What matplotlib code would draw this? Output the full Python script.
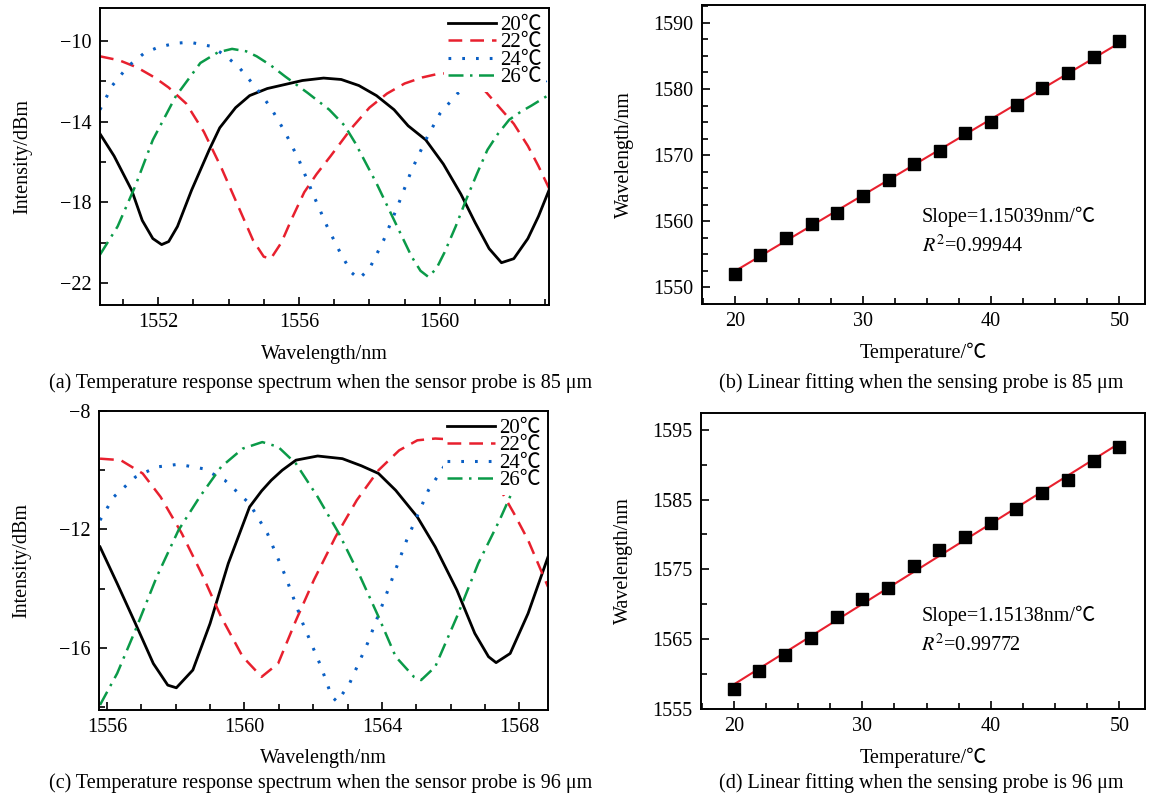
import numpy as np
import matplotlib
matplotlib.use("Agg")
import matplotlib.pyplot as plt
from matplotlib.ticker import MultipleLocator

plt.rcParams['font.family'] = ['Liberation Serif', 'Noto Sans CJK SC', 'DejaVu Sans']
plt.rcParams['mathtext.fontset'] = 'stix'
plt.rcParams['font.size'] = 14.5

W, H = 1150, 800

# ---- data ----
labels = ['20\u2103', '22\u2103', '24\u2103', '26\u2103']

# (a) sensor probe 85 um
wl_a_20 = [1550.35, 1550.75, 1551.25, 1551.55, 1551.85, 1552.1, 1552.3, 1552.55, 1552.95, 1553.45,
           1553.75, 1554.2, 1554.6, 1555.1, 1555.6, 1556.1, 1556.7, 1557.2, 1557.7, 1558.2,
           1558.7, 1559.1, 1559.6, 1560.1, 1560.6, 1561.0, 1561.4, 1561.75, 1562.1, 1562.5,
           1562.8, 1563.1]
int_a_20 = [-14.6, -15.7, -17.4, -18.9, -19.8, -20.1, -19.95, -19.2, -17.4, -15.4,
            -14.3, -13.3, -12.7, -12.35, -12.15, -11.95, -11.83, -11.9, -12.2, -12.7,
            -13.4, -14.2, -14.9, -16.1, -17.6, -19.0, -20.3, -21.0, -20.8, -19.8,
            -18.7, -17.4]
wl_a_22 = [1550.35, 1550.9, 1551.4, 1551.9, 1552.3, 1552.8, 1553.3, 1553.8, 1554.3, 1554.7,
           1555.0, 1555.2, 1555.5, 1555.8, 1556.15, 1556.5, 1556.9, 1557.5, 1558.0, 1558.5,
           1559.0, 1559.5, 1560.0, 1560.5, 1560.9, 1561.3, 1561.7, 1562.1, 1562.5, 1562.8, 1563.1]
int_a_22 = [-10.75, -10.95, -11.3, -11.8, -12.3, -13.1, -14.5, -16.3, -18.3, -19.9,
            -20.7, -20.8, -20.0, -18.8, -17.5, -16.6, -15.7, -14.3, -13.3, -12.6,
            -12.1, -11.8, -11.6, -11.6, -11.9, -12.5, -13.3, -14.1, -15.2, -16.2, -17.3]
wl_a_24 = [1550.35, 1550.7, 1551.15, 1551.6, 1552.0, 1552.5, 1552.9, 1553.5, 1553.9, 1554.3,
           1554.8, 1555.2, 1555.6, 1556.0, 1556.4, 1556.8, 1557.2, 1557.5, 1557.7, 1558.0,
           1558.4, 1558.8, 1559.2, 1559.6, 1560.0, 1560.5, 1560.9, 1561.5, 1562.2, 1562.7, 1563.1]
int_a_24 = [-13.4, -12.2, -11.24, -10.6, -10.3, -10.1, -10.05, -10.25, -10.7, -11.3,
            -12.35, -13.3, -14.5, -15.9, -17.6, -19.2, -20.6, -21.5, -21.8, -21.3,
            -19.9, -18.2, -16.4, -14.9, -13.6, -12.6, -12.15, -11.6, -11.4, -11.6, -12.15]
wl_a_26 = [1550.35, 1550.85, 1551.35, 1551.85, 1552.5, 1553.2, 1553.7, 1554.1, 1554.5, 1554.8,
           1555.2, 1555.6, 1556.25, 1556.86, 1557.3, 1557.6, 1558.2, 1558.7, 1559.2, 1559.45,
           1559.67, 1559.9, 1560.13, 1560.45, 1560.74, 1561.05, 1561.35, 1561.65, 1561.97, 1562.3,
           1562.6, 1563.1]
int_a_26 = [-20.6, -19.2, -17.2, -14.9, -12.74, -11.08, -10.55, -10.38, -10.5, -10.75,
            -11.2, -11.74, -12.57, -13.4, -14.2, -15.06, -17.05, -18.88, -20.7, -21.4,
            -21.7, -21.3, -20.5, -19.2, -17.9, -16.6, -15.4, -14.6, -13.9, -13.5,
            -13.2, -12.66]

# (c) sensor probe 96 um
wl_c_20 = [1555.8, 1556.3, 1556.83, 1557.35, 1557.77, 1558.02, 1558.5, 1559.0, 1559.53, 1560.15,
           1560.5, 1560.78, 1561.1, 1561.5, 1562.13, 1562.85, 1563.4, 1563.9, 1564.4, 1565.03,
           1565.55, 1566.18, 1566.7, 1567.1, 1567.32, 1567.73, 1568.25, 1568.83]
int_c_20 = [-12.59, -13.83, -15.18, -16.53, -17.26, -17.35, -16.75, -15.18, -13.15, -11.24,
            -10.7, -10.34, -10.0, -9.66, -9.52, -9.61, -9.85, -10.11, -10.68, -11.58,
            -12.59, -14.05, -15.51, -16.3, -16.5, -16.19, -14.84, -12.93]
wl_c_22 = [1555.8, 1556.4, 1557.04, 1557.56, 1558.18, 1558.8, 1559.32, 1559.95, 1560.5, 1560.98,
           1561.5, 1562.02, 1562.65, 1563.27, 1563.9, 1564.5, 1565.03, 1565.55, 1566.18, 1566.7,
           1567.1, 1567.4, 1567.84, 1568.25, 1568.83]
int_c_22 = [-9.61, -9.66, -10.11, -10.9, -12.14, -13.6, -14.95, -16.3, -16.98, -16.53,
            -15.07, -13.71, -12.25, -11.01, -10.0, -9.33, -8.99, -8.93, -8.97, -9.27,
            -9.89, -10.56, -11.46, -12.36, -13.94]
wl_c_24 = [1555.8, 1556.2, 1556.83, 1557.45, 1558.08, 1558.8, 1559.43, 1560.15, 1560.67, 1561.2,
           1561.7, 1562.23, 1562.54, 1562.7, 1563.06, 1563.58, 1564.1, 1564.72, 1565.35, 1565.86,
           1566.38, 1566.9, 1567.5, 1568.2, 1568.83]
int_c_24 = [-11.69, -10.9, -10.23, -9.89, -9.8, -9.95, -10.34, -11.13, -12.14, -13.6,
            -15.18, -16.64, -17.65, -17.82, -17.2, -15.85, -14.28, -12.36, -10.68, -9.78,
            -9.5, -9.45, -9.45, -9.5, -9.5]
wl_c_26 = [1555.8, 1556.3, 1556.83, 1557.45, 1558.08, 1558.7, 1559.32, 1559.95, 1560.52, 1560.98,
           1561.5, 1562.13, 1562.75, 1563.37, 1563.9, 1564.4, 1564.93, 1565.14, 1565.55, 1566.18,
           1566.8, 1567.42, 1567.94, 1568.4]
int_c_26 = [-17.93, -16.86, -15.4, -13.6, -12.03, -10.9, -9.89, -9.27, -9.05, -9.21,
            -9.78, -10.9, -12.14, -13.6, -14.95, -16.3, -16.98, -17.09, -16.64, -14.95,
            -13.15, -11.69, -10.34, -9.5]

xticks_a = [1552, 1556, 1560]
yticks_a = [-22, -18, -14, -10]
xticks_c = [1556, 1560, 1564, 1568]
yticks_c = [-16, -12, -8]

# (b), (d) dip wavelength vs temperature
temps = [20, 22, 24, 26, 28, 30, 32, 34, 36, 38, 40, 42, 44, 46, 48, 50]
wl_b = [1552.1, 1554.84, 1557.5, 1559.6, 1561.3, 1563.9, 1566.3, 1568.6,
        1570.65, 1573.4, 1575.0, 1577.6, 1580.08, 1582.4, 1584.8, 1587.2]
wl_d = [1557.86, 1560.43, 1562.72, 1565.2, 1568.16, 1570.69, 1572.4, 1575.5,
        1577.8, 1579.7, 1581.7, 1583.6, 1586.0, 1587.8, 1590.47, 1592.52]
yticks_b = [1550, 1560, 1570, 1580, 1590]
yticks_d = [1555, 1565, 1575, 1585, 1595]
slope_b, r2_b = 1.15039, 0.99944
slope_d, r2_d = 1.15138, 0.99772

captions = ['(a) Temperature response spectrum when the sensor probe is 85 \u03bcm',
            '(b) Linear fitting when the sensing probe is 85 \u03bcm',
            '(c) Temperature response spectrum when the sensor probe is 96 \u03bcm',
            '(d) Linear fitting when the sensing probe is 96 \u03bcm']

colors = ['black', '#e8202e', '#0a5fc4', '#0a9a48']
styles = ['-', (0, (5.5, 3.2)), (0, (0.9, 3.6)), (0, (6, 2.6, 1, 2.6))]
widths = [2.0, 1.8, 2.2, 1.8]

fig = plt.figure(figsize=(W / 100, H / 100), dpi=100)


def px_axes(l, t, r, b):
    return fig.add_axes([l / W, 1 - b / H, (r - l) / W, (b - t) / H])


def style(ax):
    for s in ax.spines.values():
        s.set_linewidth(1.4)
    ax.tick_params(which='both', direction='in', top=False, right=False, width=1.2)
    ax.tick_params(which='major', length=6, pad=6)
    ax.tick_params(which='minor', length=4)


def spectrum(ax, series, xlim, ylim, xticks, yticks):
    for (x, y), c, ls, lw, lab in zip(series, colors, styles, widths, labels):
        ax.plot(x, y, color=c, linestyle=ls, linewidth=lw, label=lab)
    ax.set_xlim(*xlim)
    ax.set_ylim(*ylim)
    ax.set_xticks(xticks)
    ax.set_yticks(yticks)
    ax.xaxis.set_minor_locator(MultipleLocator(1))
    ax.yaxis.set_minor_locator(MultipleLocator(2))
    style(ax)
    leg = ax.legend(loc='upper right', fontsize=15, handlelength=2.3, handletextpad=0.2,
                    labelspacing=-0.1, borderpad=0.2, borderaxespad=0.15,
                    frameon=True, fancybox=False, framealpha=1)
    leg.get_frame().set_edgecolor('none')
    ax.set_xlabel('Wavelength/nm')
    ax.set_ylabel('Intensity/dBm')
    ax.yaxis.set_label_coords(-0.15, 0.5)


def fitting(ax, wl, slope, r2, xlim, ylim, yticks, ymin, ty):
    x = np.array(temps)
    y = np.array(wl)
    icpt = y.mean() - slope * x.mean()
    ax.plot([x[0], x[-1]], [slope * x[0] + icpt, slope * x[-1] + icpt],
            color='#e8202e', linewidth=1.5, zorder=2)
    ax.plot(x, y, 's', color='black', markersize=8, zorder=3)
    ax.set_xlim(*xlim)
    ax.set_ylim(*ylim)
    ax.xaxis.set_major_locator(MultipleLocator(10))
    ax.xaxis.set_minor_locator(MultipleLocator(2.5))
    ax.set_yticks(yticks)
    ax.yaxis.set_minor_locator(MultipleLocator(ymin))
    style(ax)
    ax.text(34.6, ty, 'Slope=%.5fnm/\u2103' % slope, fontsize=14.5, va='center')
    ax.text(34.6, ty - 4.4 * (ylim[1] - ylim[0]) / 45, '$R^2$=%.5f' % r2, fontsize=14.5, va='center')
    ax.set_xlabel('Temperature/\u2103')
    ax.set_ylabel('Wavelength/nm')
    ax.yaxis.set_label_coords(-0.153, 0.5)


ax_a = px_axes(100, 8, 549, 305)
spectrum(ax_a, [(wl_a_20, int_a_20), (wl_a_22, int_a_22), (wl_a_24, int_a_24), (wl_a_26, int_a_26)],
         (1550.35, 1563.1), (-23.1, -8.35), xticks_a, yticks_a)

ax_c = px_axes(99, 411, 548, 710)
spectrum(ax_c, [(wl_c_20, int_c_20), (wl_c_22, int_c_22), (wl_c_24, int_c_24), (wl_c_26, int_c_26)],
         (1555.77, 1568.83), (-18.1, -8), xticks_c, yticks_c)

ax_b = px_axes(702, 5, 1145, 304)
fitting(ax_b, wl_b, slope_b, r2_b, (17.45, 52.0), (1547.5, 1592.7), yticks_b, 2.5, 1560.7)

ax_d = px_axes(701, 413, 1145, 709)
fitting(ax_d, wl_d, slope_d, r2_d, (17.45, 52.0), (1555, 1597.4), yticks_d, 5, 1568.3)

for ax, top in [(ax_a, 305), (ax_b, 304), (ax_c, 710), (ax_d, 709)]:
    bb = ax.get_position()
    ax.xaxis.set_label_coords(0.5, (1 - (top + 49) / H - bb.y0) / bb.height)
    ax.xaxis.label.set_va('center')

for cap, (cx, cy) in zip(captions, [(321, 383), (921, 383), (321, 783), (921, 783)]):
    fig.text(cx / W, 1 - cy / H, cap, ha='center', va='center', fontsize=14.5)

fig.savefig('out.png', dpi=100)
